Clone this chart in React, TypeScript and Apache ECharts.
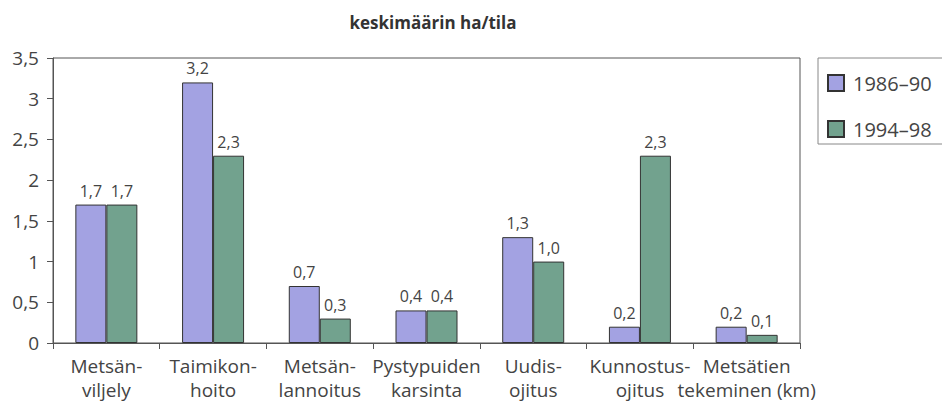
import React, { useEffect, useRef } from "react";
import * as echarts from "echarts";

const categories = [
  "Metsän-\nviljely",
  "Taimikon-\nhoito",
  "Metsän-\nlannoitus",
  "Pystypuiden\nkarsinta",
  "Uudis-\nojitus",
  "Kunnostus-\nojitus",
  "Metsätien\ntekeminen (km)",
];
const seriesNames = ["1986–90", "1994–98"];
const values1986 = [1.7, 3.2, 0.7, 0.4, 1.3, 0.2, 0.2];
const values1994 = [1.7, 2.3, 0.3, 0.4, 1.0, 2.3, 0.1];
const title = "keskimäärin ha/tila";

const FONT = "'Open Sans', 'Noto Sans', sans-serif";
const TXT = "#444";
const LINE = "#555";

export default function App() {
  const ref = useRef<HTMLDivElement>(null);
  useEffect(() => {
    if (!ref.current) return;
    const chart = echarts.init(ref.current, undefined, { renderer: "svg" });
    const fmt = (v: number) => v.toFixed(1).replace(".", ",");
    const barLabel = {
      show: true,
      position: "top" as const,
      distance: 6,
      color: TXT,
      fontFamily: FONT,
      fontSize: 16,
      formatter: (p: any) => fmt(p.value),
    };
    chart.setOption({
      animation: false,
      backgroundColor: "#fff",
      textStyle: { fontFamily: FONT },
      title: {
        text: title,
        left: 428,
        top: 9,
        textAlign: "center",
        textStyle: { fontFamily: FONT, fontSize: 17, fontWeight: "bold", color: "#333" },
      },
      grid: {
        left: 53,
        right: 142,
        top: 58,
        bottom: 59,
        show: true,
        borderColor: LINE,
        borderWidth: 1,
        backgroundColor: "transparent",
      },
      legend: {
        orient: "vertical",
        left: 827,
        top: 73,
        padding: 0,
        itemWidth: 16,
        itemHeight: 16,
        itemGap: 26,
        icon: "rect",
        textStyle: {
          fontFamily: FONT,
          fontSize: 20,
          color: TXT,
          lineHeight: 16,
          padding: [0, 0, 0, 4],
        },
        data: seriesNames,
      },
      graphic: [
        {
          type: "rect",
          shape: { x: 818, y: 58, width: 140, height: 86 },
          style: { fill: "none", stroke: "#888", lineWidth: 1 },
          z: -1,
        },
      ],
      xAxis: {
        type: "category",
        data: categories,
        axisLine: { lineStyle: { color: LINE } },
        axisTick: { show: true, length: 6, lineStyle: { color: LINE } },
        axisLabel: {
          color: TXT,
          fontFamily: FONT,
          fontSize: 19,
          lineHeight: 24,
          margin: 11,
          interval: 0,
        },
      },
      yAxis: {
        type: "value",
        min: 0,
        max: 3.5,
        interval: 0.5,
        splitLine: { show: false },
        axisLine: { show: true, lineStyle: { color: LINE } },
        axisTick: { show: true, length: 6, lineStyle: { color: LINE } },
        axisLabel: {
          color: TXT,
          fontFamily: FONT,
          fontSize: 19,
          margin: 14,
          formatter: (v: number) => (Number.isInteger(v) ? String(v) : fmt(v)),
        },
      },
      series: [
        {
          name: seriesNames[0],
          type: "bar",
          data: values1986,
          barWidth: 31,
          barGap: "0%",
          itemStyle: { color: "#a3a2e2", borderColor: "#333", borderWidth: 1 },
          label: barLabel,
        },
        {
          name: seriesNames[1],
          type: "bar",
          data: values1994,
          barWidth: 31,
          barGap: "0%",
          itemStyle: { color: "#72a28e", borderColor: "#333", borderWidth: 1 },
          label: barLabel,
        },
      ],
    });
    return () => chart.dispose();
  }, []);
  return (
    <div
      ref={ref}
      style={{ position: "fixed", left: 0, top: 0, width: 942, height: 402, background: "#fff" }}
    />
  );
}
